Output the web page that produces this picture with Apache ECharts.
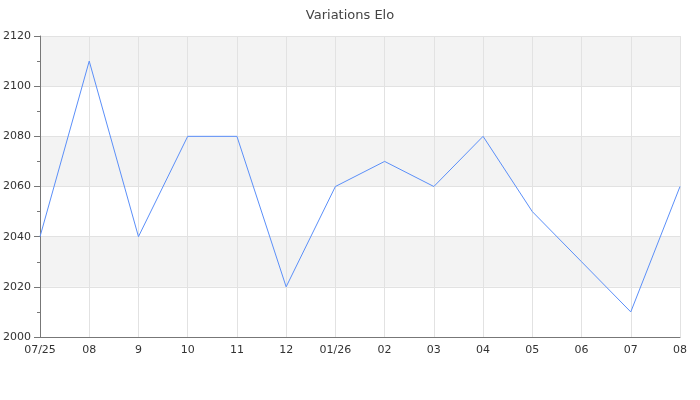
<!DOCTYPE html>
<html><head><meta charset="utf-8">
<script src="https://cdn.jsdelivr.net/npm/echarts@6/dist/echarts.min.js"></script>
<style>html,body{margin:0;padding:0;background:#fff}#c{width:700px;height:400px}</style>
</head><body><div id="c"></div>
<script>
const categories = ['07/25','08','9','10','11','12','01/26','02','03','04','05','06','07','08'];
const eloValues = [2040, 2110, 2040, 2080, 2080, 2020, 2060, 2070, 2060, 2080, 2050, 2030, 2010, 2060];
const chart = echarts.init(document.getElementById('c'), null, {renderer:'canvas'});
const font = 'DejaVu Sans';
chart.setOption({
  animation: false,
  backgroundColor: '#fff',
  title: {text: 'Variations Elo', left: 'center', top: 4,
    textStyle: {fontFamily: font, fontSize: 13, fontWeight: 'normal', color: '#444'}},
  grid: {left: 40, right: 20, top: 36, bottom: 63, containLabel: false, outerBoundsMode: 'none'},
  xAxis: {type: 'category', data: categories, boundaryGap: false,
    axisLine: {lineStyle: {color: '#777'}},
    axisTick: {show: false},
    axisLabel: {fontFamily: font, fontSize: 11, color: '#333', margin: 8, interval: 0},
    splitLine: {show: true, lineStyle: {color: '#e2e2e2'}}},
  yAxis: {type: 'value', min: 2000, max: 2120, interval: 20,
    axisLine: {show: true, lineStyle: {color: '#777'}},
    axisTick: {show: true, length: 6, lineStyle: {color: '#777'}},
    minorTick: {show: true, splitNumber: 2, length: 3, lineStyle: {color: '#777'}},
    axisLabel: {fontFamily: font, fontSize: 11, color: '#333', margin: 9, formatter: v => String(v)},
    splitLine: {show: true, lineStyle: {color: '#e2e2e2'}},
    splitArea: {show: true, areaStyle: {color: ['#ffffff', '#f3f3f3']}}},
  series: [{type: 'line', data: eloValues, symbol: 'none',
    lineStyle: {color: '#5b8ff9', width: 1}}]
});
</script></body></html>
